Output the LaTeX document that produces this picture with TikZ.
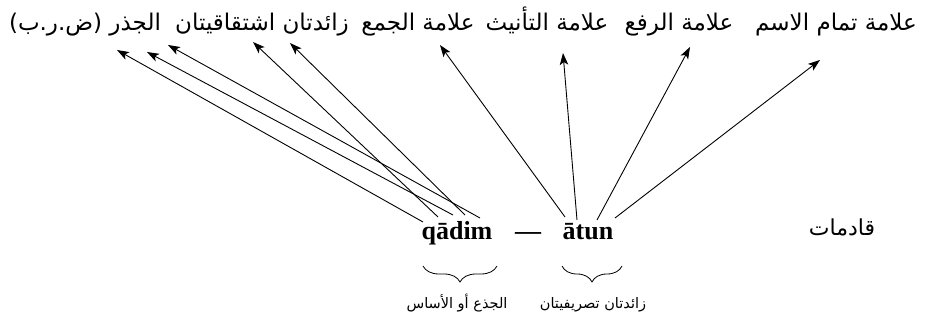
\documentclass[tikz,border=0pt]{standalone}
\usepackage{fontspec}
\usetikzlibrary{arrows.meta,decorations.pathreplacing}
\TeXXeTstate=1
\setmainfont{Liberation Serif}
\newfontfamily\arabicfont[Script=Arabic]{DejaVu Sans}
\begin{document}
\begin{tikzpicture}[x=1pt,y=-1pt,
  toplab/.style={inner sep=0pt,anchor=base,font=\arabicfont\fontsize{23}{27}\selectfont},
  sublab/.style={inner sep=0pt,anchor=base,font=\arabicfont\fontsize{14.5}{17}\selectfont},
  latin/.style={inner sep=0pt,anchor=base,font=\bfseries\fontsize{26}{30}\selectfont},
  arr/.style={line width=0.9pt,-{Stealth[length=12pt,width=8.5pt,inset=3pt]}},
  bracedeco/.style={line width=0.8pt,decorate,decoration={brace,mirror,amplitude=16pt}}]
\useasboundingbox (0,0) rectangle (926,328);
% top labels
\node[toplab] (root) at (85,31) {\beginR الجذر (ض.ر.ب)\endR};
\node[toplab] (deriv) at (262,31) {\beginR زائدتان اشتقاقيتان\endR};
\node[toplab] (plural) at (418,31) {\beginR علامة الجمع\endR};
\node[toplab] (fem) at (547,31) {\beginR علامة التأنيث\endR};
\node[toplab] (nom) at (679,31) {\beginR علامة الرفع\endR};
\node[toplab] (nun) at (836,31) {\beginR علامة تمام الاسم\endR};
% bottom words
\node[latin] (qadim) at (457,240) {qādim};
\node[latin] (dash) at (528,240) {—};
\node[latin] (atun) at (588,240) {ātun};
\node[inner sep=0pt,anchor=base,font=\arabicfont\fontsize{22}{26}\selectfont] (word) at (842,236) {\beginR قادمات\endR};
% letter coordinates on qadim and atun
\coordinate (q1) at (423,222);
\coordinate (q2) at (438,217);
\coordinate (q3) at (453,215);
\coordinate (q4) at (465,215);
\coordinate (q5) at (480,218);
\coordinate (a1) at (565,217);
\coordinate (a2) at (577,220);
\coordinate (a3) at (597,220);
\coordinate (a4) at (615,218);
% arrow targets under the labels
\coordinate (r1) at (117,50);
\coordinate (r2) at (147,52);
\coordinate (r3) at (168,45);
\coordinate (d1) at (253,42);
\coordinate (d2) at (290,43);
\coordinate (t1) at (440,45);
\coordinate (t2) at (563,53);
\coordinate (t3) at (690,47);
\coordinate (t4) at (820,60);
\draw[arr] (q1) -- (r1);
\draw[arr] (q3) -- (r2);
\draw[arr] (q5) -- (r3);
\draw[arr] (q2) -- (d1);
\draw[arr] (q4) -- (d2);
\draw[arr] (a1) -- (t1);
\draw[arr] (a2) -- (t2);
\draw[arr] (a3) -- (t3);
\draw[arr] (a4) -- (t4);
% braces
\coordinate (b1l) at (423,266);
\coordinate (b1r) at (497,266);
\coordinate (b2l) at (562,266);
\coordinate (b2r) at (622,266);
\draw[bracedeco] (b1l) -- (b1r);
\draw[bracedeco] (b2l) -- (b2r);
\node[sublab] (stem) at (457,309) {\beginR الجذع أو الأساس\endR};
\node[sublab] (infl) at (593,309) {\beginR زائدتان تصريفيتان\endR};
\end{tikzpicture}
\end{document}
